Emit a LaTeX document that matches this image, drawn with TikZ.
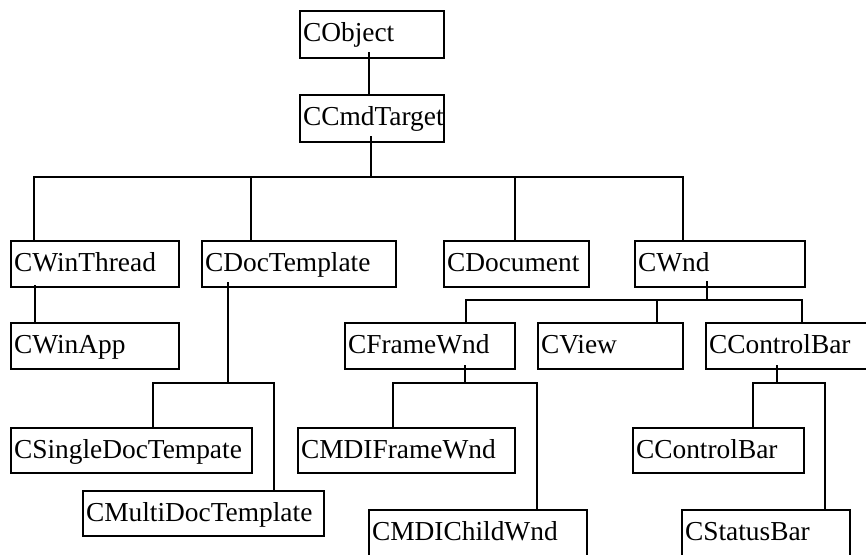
\documentclass[tikz,border=0pt]{standalone}
\usepackage{fontspec}
\newfontfamily\tnrfam{Liberation Serif}
\tikzset{
  cls/.style={draw, line width=2pt, anchor=north west, inner xsep=3pt, inner ysep=10pt,
    text height=20pt, text depth=6pt, align=left,
    font=\tnrfam\fontsize{27.4}{30}\selectfont},
  link/.style={line width=2pt}
}
\begin{document}
\begin{tikzpicture}[x=1pt, y=-1pt]
\path[use as bounding box, fill=white] (0,0) rectangle (866,554);
\clip (0,0) rectangle (866,554);
% classes
\node[cls, text width=138pt, text depth=7pt] (CObject) at (299,10) {CObject};
\node[cls, text width=138pt, text depth=7pt] (CCmdTarget) at (299,94) {CCmdTarget};
\node[cls, text width=162pt] (CWinThread) at (10,240) {CWinThread};
\node[cls, text width=188pt] (CDocTemplate) at (201,240) {CDocTemplate};
\node[cls, text width=139pt] (CDocument) at (443,240) {CDocument};
\node[cls, text width=164pt] (CWnd) at (634,240) {CWnd};
\node[cls, text width=162pt] (CWinApp) at (10,322) {CWinApp};
\node[cls, text width=164pt] (CFrameWnd) at (344,322) {CFrameWnd};
\node[cls, text width=139pt] (CView) at (537,322) {CView};
\node[cls, text width=194pt] (CControlBar) at (705,322) {CControlBar};
\node[cls, text width=235pt, text depth=5pt] (CSingleDoc) at (10,427) {CSingleDocTempate};
\node[cls, text width=211pt, text depth=5pt] (CMDIFrameWnd) at (297,427) {CMDIFrameWnd};
\node[cls, text width=165pt, text depth=5pt] (CControlBarB) at (632,427) {CControlBar};
\node[cls, text width=235pt, text depth=5pt] (CMultiDoc) at (82,490) {CMultiDocTemplate};
\node[cls, text width=212pt, text depth=8pt] (CMDIChildWnd) at (368,509) {CMDIChildWnd};
\node[cls, text width=162pt, text depth=8pt] (CStatusBar) at (681,509) {CStatusBar};
% connectors
\draw[link] (CObject.south -| 369,0) ++(0,-7) -- (CCmdTarget.north -| 369,0);
\draw[link] (CCmdTarget.south -| 371,0) ++(0,-7) -- (371,177);
\draw[link] (CWinThread.north -| 34,0) -- (34,177) -- (683,177) -- (CWnd.north -| 683,0);
\draw[link] (CDocTemplate.north -| 251,0) -- (251,177);
\draw[link] (CDocument.north -| 515,0) -- (515,177);
\draw[link] (CWinThread.south -| 35,0) ++(0,-3) -- (CWinApp.north -| 35,0);
\draw[link] (CDocTemplate.south -| 228,0) ++(0,-6) -- (228,383);
\draw[link] (CSingleDoc.north -| 153,0) -- (153,383) -- (274,383) -- (CMultiDoc.north -| 274,0);
\draw[link] (CWnd.south -| 707,0) ++(0,-7) -- (707,300);
\draw[link] (CFrameWnd.north -| 466,0) -- (466,300) -- (802,300) -- (CControlBar.north -| 802,0);
\draw[link] (CView.north -| 657,0) -- (657,300);
\draw[link] (CFrameWnd.south -| 465,0) ++(0,-5) -- (465,383);
\draw[link] (CMDIFrameWnd.north -| 393,0) -- (393,383) -- (537,383) -- (CMDIChildWnd.north -| 537,0);
\draw[link] (CControlBar.south -| 777,0) ++(0,-5) -- (777,383);
\draw[link] (CControlBarB.north -| 753,0) -- (753,383) -- (825,383) -- (CStatusBar.north -| 825,0);
\end{tikzpicture}
\end{document}
